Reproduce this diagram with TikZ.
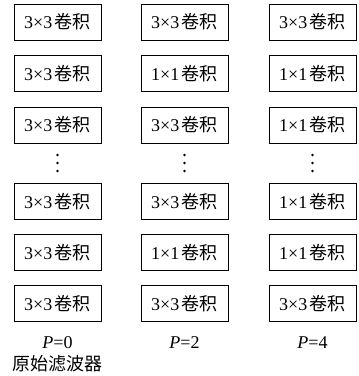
\documentclass[tikz,border=0pt]{standalone}
\usepackage{fontspec}
\setmainfont{Liberation Serif}
\newfontfamily\cjk{Noto Sans CJK SC}
\newcommand\cvtxt[1]{#1\kern2.5pt{\cjk 卷积}}
\begin{document}
\begin{tikzpicture}[x=1pt,y=-1pt,
  box/.style={draw, line width=0.9pt, minimum width=87pt, minimum height=36pt, inner sep=0pt, font=\fontsize{18}{21}\selectfont},
  lab/.style={inner sep=0pt, font=\fontsize{18}{21}\selectfont},
  vdot/.style={circle, fill, inner sep=0pt, minimum size=2.8pt}]
\useasboundingbox (0,0) rectangle (359,376);
\def\ya{22}\def\yb{73.5}\def\yc{125}\def\yd{201.5}\def\ye{252.5}\def\yf{303.5}
\def\xa{57.5}\def\xb{184.5}\def\xc{312.5}
% column 1
\node[box] (a1) at (\xa,\ya) {\cvtxt{3×3}};
\node[box] (a2) at (\xa,\yb) {\cvtxt{3×3}};
\node[box] (a3) at (\xa,\yc) {\cvtxt{3×3}};
\node[box] (a4) at (\xa,\yd) {\cvtxt{3×3}};
\node[box] (a5) at (\xa,\ye) {\cvtxt{3×3}};
\node[box] (a6) at (\xa,\yf) {\cvtxt{3×3}};
% column 2
\node[box] (b1) at (\xb,\ya) {\cvtxt{3×3}};
\node[box] (b2) at (\xb,\yb) {\cvtxt{1×1}};
\node[box] (b3) at (\xb,\yc) {\cvtxt{3×3}};
\node[box] (b4) at (\xb,\yd) {\cvtxt{3×3}};
\node[box] (b5) at (\xb,\ye) {\cvtxt{1×1}};
\node[box] (b6) at (\xb,\yf) {\cvtxt{3×3}};
% column 3
\node[box] (c1) at (\xc,\ya) {\cvtxt{3×3}};
\node[box] (c2) at (\xc,\yb) {\cvtxt{1×1}};
\node[box] (c3) at (\xc,\yc) {\cvtxt{1×1}};
\node[box] (c4) at (\xc,\yd) {\cvtxt{1×1}};
\node[box] (c5) at (\xc,\ye) {\cvtxt{1×1}};
\node[box] (c6) at (\xc,\yf) {\cvtxt{3×3}};
% dots
\foreach \x/\n in {\xa/a,\xb/b,\xc/c}{
  \node[vdot] (\n d1) at (\x,155) {};
  \node[vdot] (\n d2) at (\x,163) {};
  \node[vdot] (\n d3) at (\x,171) {};
}
% labels
\node[lab] (p0) at (\xa,343) {\textit{P}=0};
\node[lab] (p2) at (\xb,343) {\textit{P}=2};
\node[lab] (p4) at (\xc,343) {\textit{P}=4};
\node[lab] (orig) at (\xa,364) {\cjk 原始滤波器};
\end{tikzpicture}
\end{document}
